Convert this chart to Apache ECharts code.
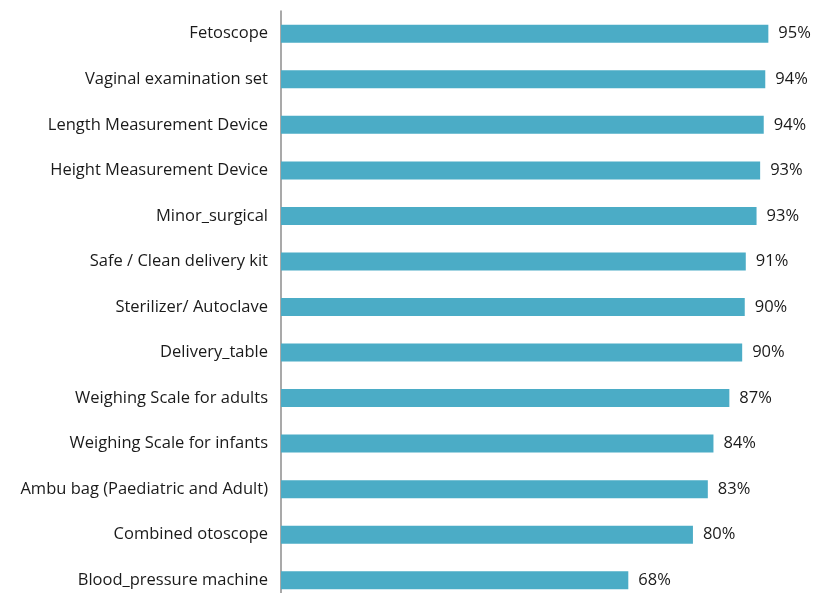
<!DOCTYPE html>
<html>
<head>
<meta charset="utf-8">
<script src="https://cdn.jsdelivr.net/npm/echarts@6/dist/echarts.min.js"></script>
<style>
  html, body { margin: 0; padding: 0; background: #fff; overflow: hidden; }
  /* taller than the window: the plot runs off the bottom edge as in the reference */
  #main { width: 814px; height: 603px; }
</style>
</head>
<body>
<div id="main"></div>
<script>
// categories top to bottom
var items = [
    'Fetoscope',
    'Vaginal examination set',
    'Length Measurement Device',
    'Height Measurement Device',
    'Minor_surgical',
    'Safe / Clean delivery kit',
    'Sterilizer/ Autoclave',
    'Delivery_table',
    'Weighing Scale for adults',
    'Weighing Scale for infants',
    'Ambu bag (Paediatric and Adult)',
    'Combined otoscope',
    'Blood_pressure machine'
];
var availability = [95.0, 94.4, 94.1, 93.4, 92.7, 90.6, 90.4, 89.9, 87.4, 84.3, 83.2, 80.3, 67.7];

var chart = echarts.init(document.getElementById('main'));

var option = {
    animation: false,
    grid: {
        left: 281,
        right: 20,
        top: 11,
        bottom: 0
    },
    xAxis: {
        type: 'value',
        min: 0,
        max: 100,
        show: false
    },
    yAxis: {
        type: 'category',
        inverse: true,
        data: items,
        axisLine: { show: true, lineStyle: { color: '#8c8c8c', width: 1.5 } },
        axisTick: { show: false },
        axisLabel: {
            margin: 13,
            fontFamily: 'Open Sans',
            fontSize: 16.5,
            color: '#1a1a1a'
        }
    },
    series: [{
        type: 'bar',
        data: availability,
        barWidth: 18,
        itemStyle: { color: '#4bacc6' },
        label: {
            show: true,
            position: 'right',
            distance: 10,
            fontFamily: 'Open Sans',
            fontSize: 16.5,
            color: '#1a1a1a',
            formatter: function (p) { return Math.round(p.value) + '%'; }
        }
    }]
};

chart.setOption(option);
</script>
</body>
</html>
